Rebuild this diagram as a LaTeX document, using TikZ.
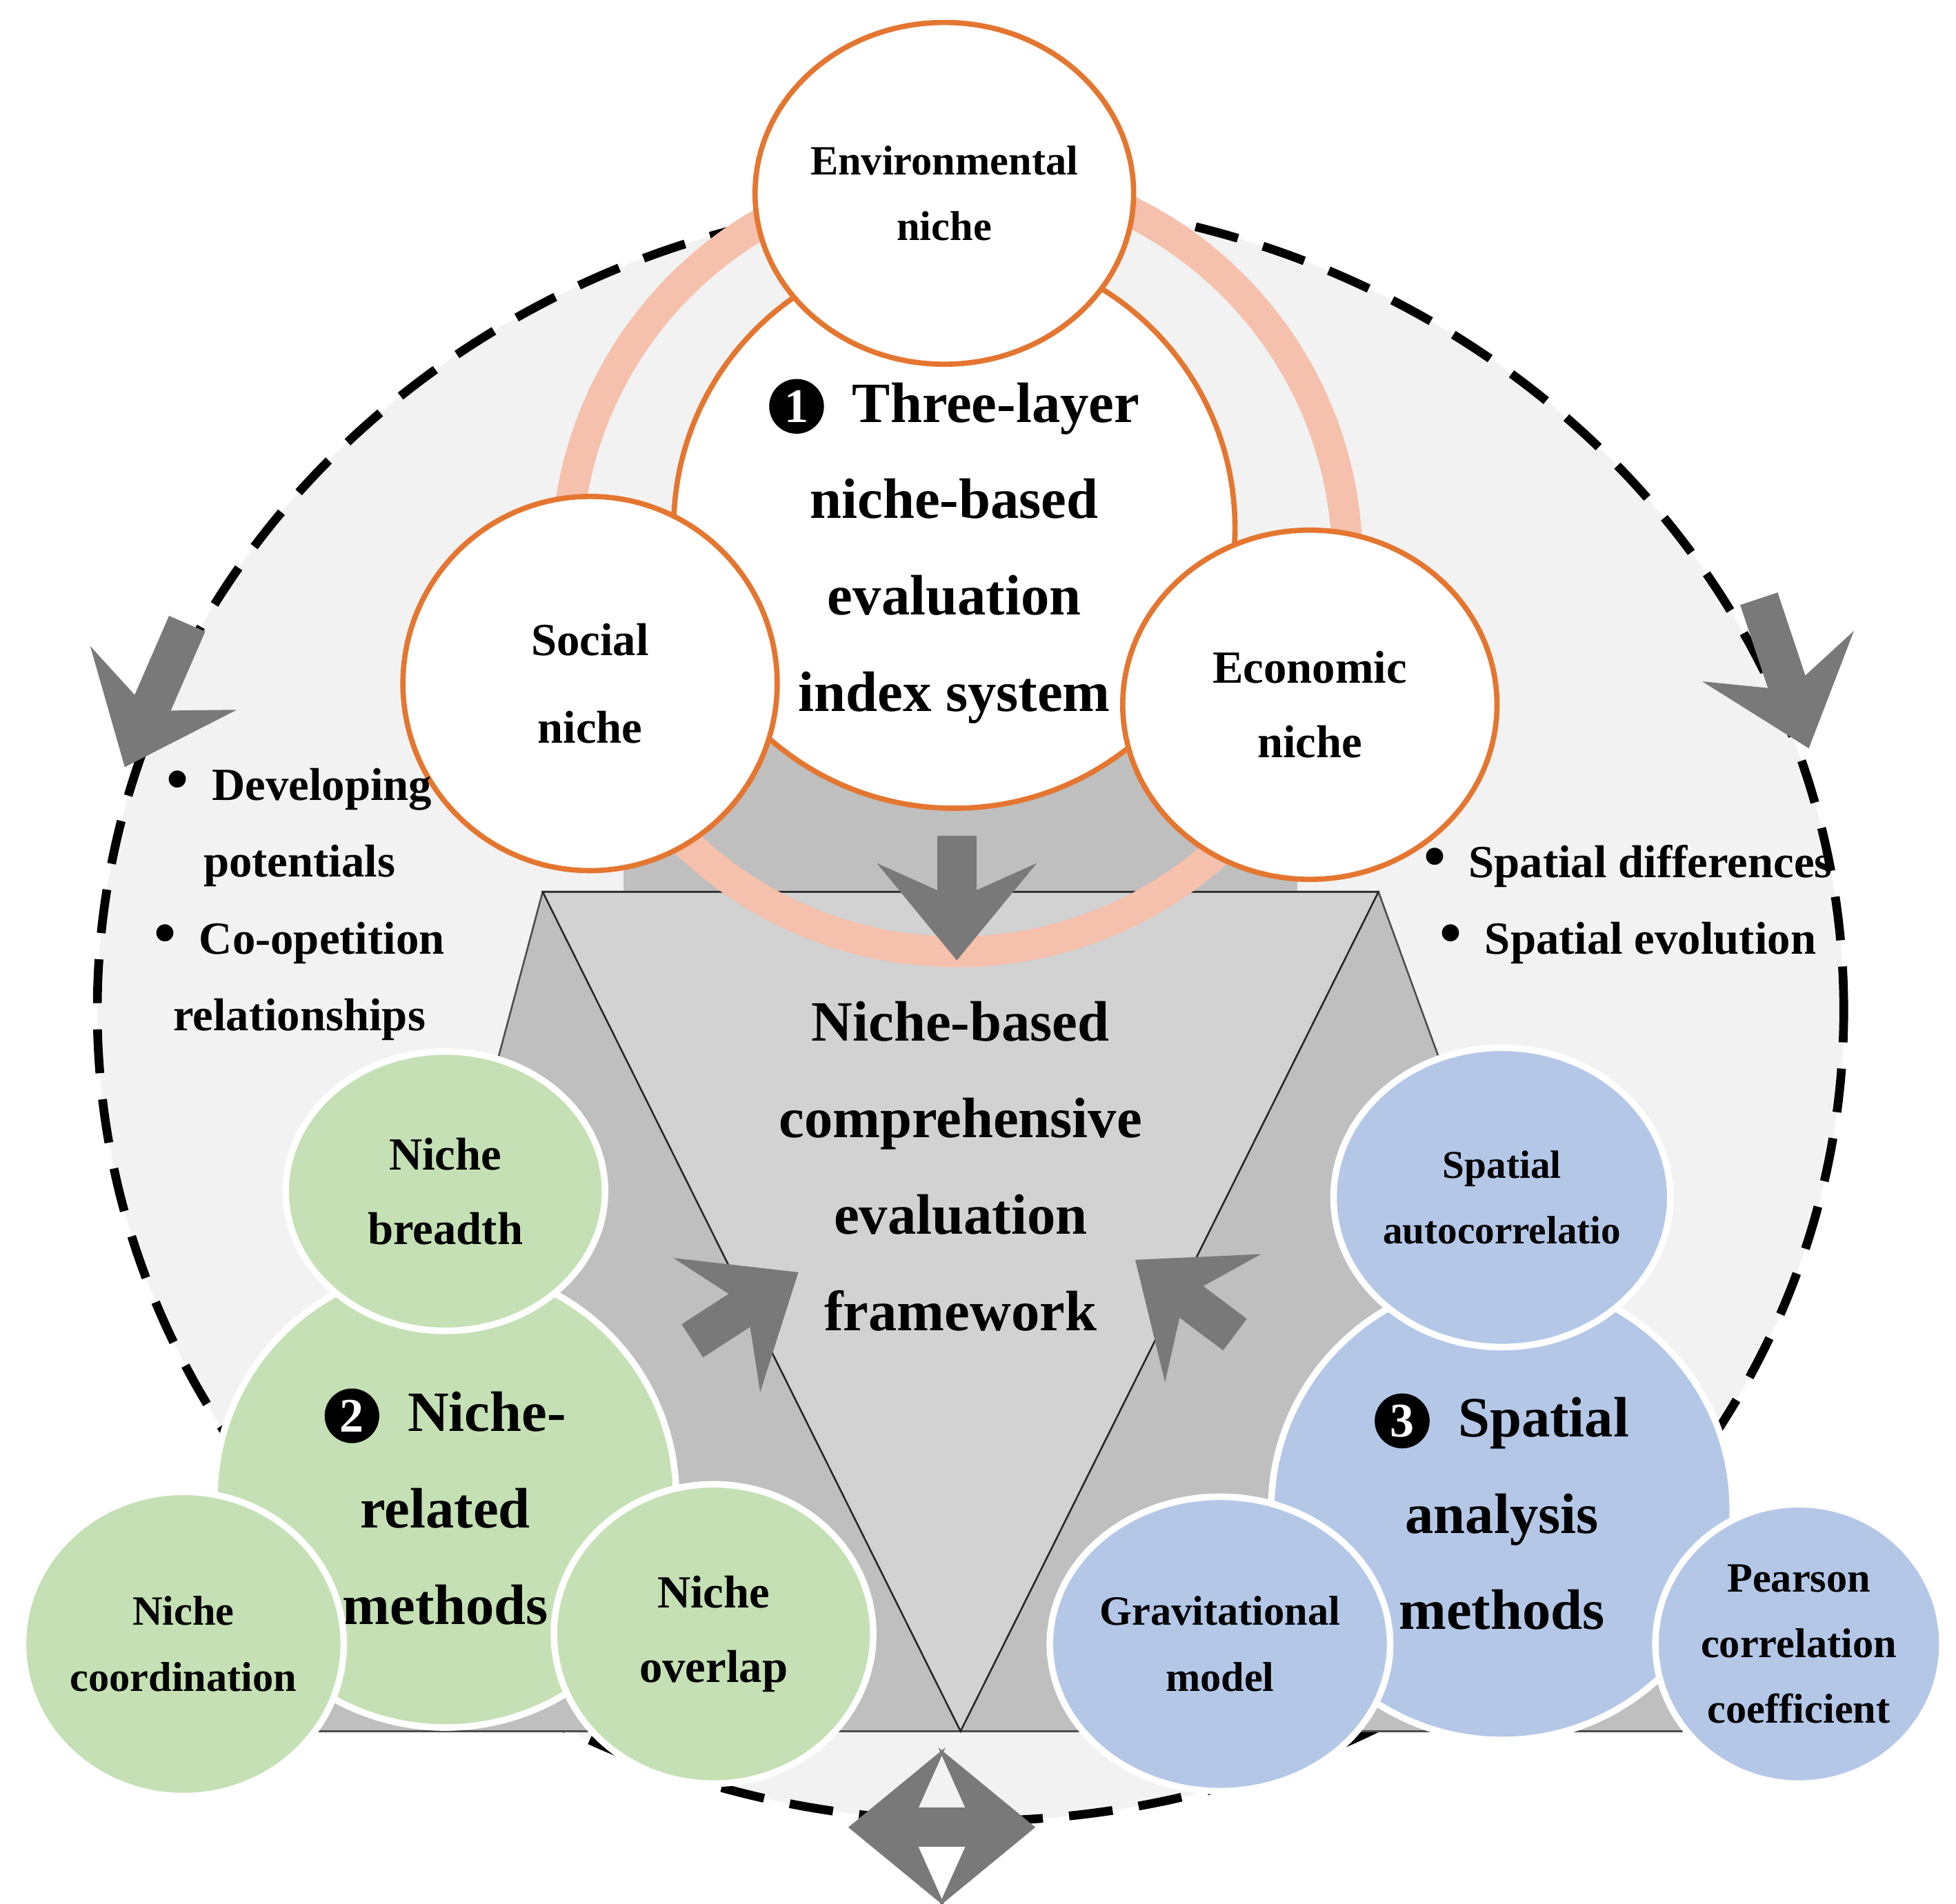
\documentclass[tikz,border=0pt]{standalone}
\usepackage{fontspec}
\setmainfont{Liberation Serif}
\usetikzlibrary{shapes.geometric,arrows.meta}
\definecolor{ringc}{RGB}{245,192,172}
\definecolor{orangec}{RGB}{228,118,48}
\definecolor{greenc}{RGB}{197,224,180}
\definecolor{bluec}{RGB}{180,199,231}
\tikzset{
  bubble/.style={ellipse, draw=orangec, line width=1.2pt, fill=white, align=center,
    font=\bfseries\fontsize{9.5}{15}\selectfont, inner sep=0pt},
  gbubble/.style={bubble, draw=white, line width=1.5pt, fill=greenc},
  bbubble/.style={bubble, draw=white, line width=1.5pt, fill=bluec},
  bigtext/.style={align=center, font=\bfseries\fontsize{13}{22}\selectfont},
  bignum/.style={circle, fill=black, text=white, inner sep=1.2pt, font=\bfseries\fontsize{11}{11}\selectfont},
  blockarrow/.style={draw=gray!95!black, line width=9pt,
    -{Stealth[length=22pt, width=36pt, inset=8pt]}},
  notes/.style={align=center, font=\bfseries\fontsize{10.5}{17.5}\selectfont},
}
\newcommand{\bdot}{{\Large\textbullet}}
\begin{document}
\begin{tikzpicture}
        \useasboundingbox (0,0) rectangle (15.68,-15.26);
        % background
        \draw[line width=2pt, dash pattern=on 10pt off 6pt, fill=gray!10]
          (7.78,-8.10) ellipse [x radius=7.0cm, y radius=6.5cm];
        \fill[gray!50, draw=gray!60!black, line width=0.4pt]
          (4.35,-7.15) -- (11.05,-7.15) -- (13.50,-13.88) -- (2.55,-13.88) -- cycle;
        \fill[gray!50] (5.0,-5.9) rectangle (10.4,-7.15);
        \draw[fill=gray!35, draw=gray!30!black, line width=0.4pt]
          (4.35,-7.15) -- (11.05,-7.15) -- (7.70,-13.88) -- cycle;
        
        % ring and niche layer
        \draw[ringc, line width=7pt] (7.67,-4.50) circle [radius=3.13cm];
        \node[bubble, circle, minimum size=4.5cm] (layer) at (7.65,-4.23) {};
        \node[bigtext] at (7.65,-4.42) {\tikz[baseline=-0.6ex]\node[bignum]{1};\ \ Three-layer\\niche-based\\evaluation\\index system};
        \node[bubble, minimum width=2.96cm, minimum height=2.74cm] (env) at (7.57,-1.55) {Environmental\\niche};
        \node[bubble, minimum width=3.0cm, minimum height=3.0cm, font=\bfseries\fontsize{10.5}{20}\selectfont] (soc) at (4.73,-5.48) {Social\\niche};
        \node[bubble, minimum width=3.0cm, minimum height=2.8cm, font=\bfseries\fontsize{10.5}{17}\selectfont] (eco) at (10.50,-5.65) {Economic\\niche};
        
        % centre text
        \node[bigtext] (frame) at (7.70,-9.35) {Niche-based\\comprehensive\\evaluation\\framework};
        
        % block arrows
        \coordinate (d1) at (7.67,-6.70); \coordinate (d2) at (7.67,-7.70);
        \coordinate (l1) at (1.50,-5.00); \coordinate (l2) at (1.00,-6.15);
        \coordinate (r1) at (14.10,-4.80); \coordinate (r2) at (14.50,-6.00);
        \coordinate (a1) at (5.55,-10.75); \coordinate (a2) at (6.40,-10.20);
        \coordinate (b1) at (9.90,-10.70); \coordinate (b2) at (9.10,-10.10);
        \coordinate (hm) at (7.55,-14.65);
        \coordinate (h1) at (6.80,-14.65); \coordinate (h2) at (8.30,-14.65);
        \draw[blockarrow] (d1) -- (d2);
        \draw[blockarrow] (l1) -- (l2);
        \draw[blockarrow] (r1) -- (r2);
        \draw[blockarrow] (a1) -- (a2);
        \draw[blockarrow] (b1) -- (b2);
        \draw[blockarrow] (hm) -- (h1);
        \draw[blockarrow] (hm) -- (h2);
        
        % side notes
        \node[notes] (left) at (2.40,-7.25)
          {\bdot\ \ Developing\\potentials\\\bdot\ \ Co-opetition\\relationships};
        \node[notes] (right) at (13.05,-7.25)
          {\bdot\ \ Spatial differences\\\bdot\ \ Spatial evolution};
        
        % niche-related methods
        \node[gbubble, circle, minimum size=3.7cm] (nrm) at (3.57,-12.00) {};
        \node[bigtext] at (3.57,-12.08) {\tikz[baseline=-0.6ex]\node[bignum]{2};\ \ Niche-\\related\\methods};
        \node[gbubble, minimum width=2.56cm, minimum height=2.24cm, font=\bfseries\fontsize{10.5}{17}\selectfont] (nb) at (3.57,-9.55) {Niche\\breadth};
        \node[gbubble, minimum width=2.56cm, minimum height=2.44cm] (nc) at (1.47,-13.18) {Niche\\coordination};
        \node[gbubble, minimum width=2.56cm, minimum height=2.40cm, font=\bfseries\fontsize{10.5}{17}\selectfont] (no) at (5.72,-13.10) {Niche\\overlap};
        
        % spatial analysis methods
        \node[bbubble, circle, minimum size=3.7cm] (sam) at (12.04,-12.10) {};
        \node[bigtext] at (12.04,-12.12) {\tikz[baseline=-0.6ex]\node[bignum]{3};\ \ Spatial\\analysis\\methods};
        \node[bbubble, minimum width=2.66cm, minimum height=2.40cm, font=\bfseries\fontsize{9}{15}\selectfont] (sa) at (12.04,-9.60) {Spatial\\autocorrelatio};
        \node[bbubble, minimum width=2.56cm, minimum height=2.36cm] (gm) at (9.78,-13.18) {Gravitational\\model};
        \node[bbubble, minimum width=2.30cm, minimum height=2.24cm] (pc) at (14.42,-13.18) {Pearson\\correlation\\coefficient};
    \end{tikzpicture}
\end{document}
